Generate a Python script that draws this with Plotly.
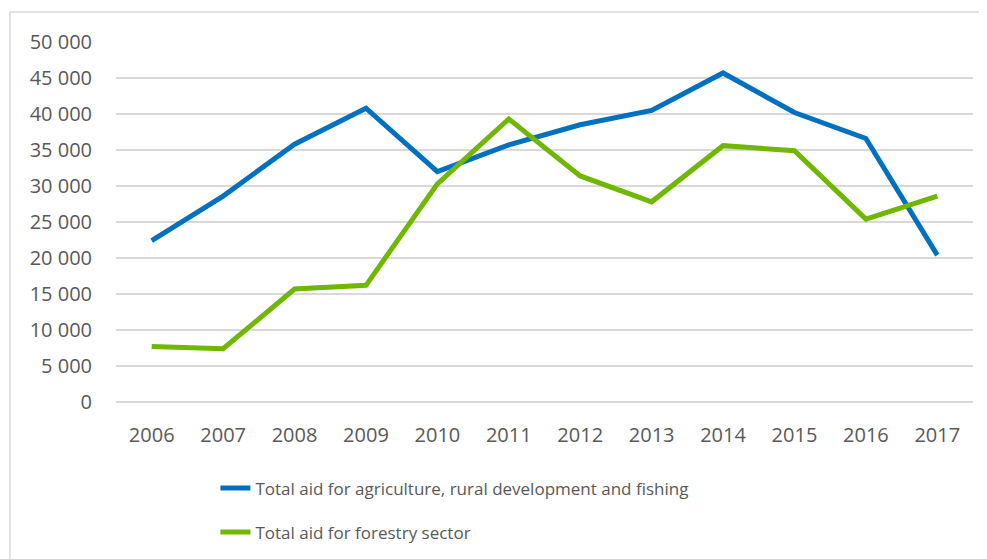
import plotly.graph_objects as go

years = ["2006", "2007", "2008", "2009", "2010", "2011", "2012", "2013", "2014", "2015", "2016", "2017"]
agri = [22400, 28600, 35800, 40800, 32000, 35700, 38500, 40500, 45700, 40200, 36600, 20400]
forestry = [7700, 7400, 15700, 16200, 30300, 39300, 31400, 27800, 35600, 34900, 25400, 28600]
name_agri = "Total aid for agriculture, rural development and fishing"
name_forest = "Total aid for forestry sector"
y_ticks = [0, 5000, 10000, 15000, 20000, 25000, 30000, 35000, 40000, 45000, 50000]
y_labels = ["0", "5 000", "10 000", "15 000", "20 000", "25 000", "30 000", "35 000", "40 000", "45 000", "50 000"]

FONT = "Open Sans"
GRAY = "#595959"

fig = go.Figure()
fig.add_trace(go.Scatter(x=years, y=agri, mode="lines", name=name_agri, legendgroup="a",
                         line=dict(color="#0070C0", width=5)))
fig.add_trace(go.Scatter(x=years, y=forestry, mode="lines", name=name_forest, legendgroup="b",
                         line=dict(color="#70B800", width=5)))

fig.update_layout(
    width=979, height=551,
    margin=dict(l=108, r=14, t=34, b=157, autoexpand=False),
    paper_bgcolor="white", plot_bgcolor="white",
    font=dict(family=FONT, color=GRAY, size=20),
    showlegend=True,
    legend=dict(x=0.116, xanchor="left", y=-0.19, yanchor="top",
                font=dict(family=FONT, size=17, color=GRAY),
                tracegroupgap=19, bgcolor="rgba(0,0,0,0)"),
    xaxis=dict(type="category", range=[-0.5, 11.5], showgrid=False, showline=False,
               ticks="", ticklabelstandoff=19, tickfont=dict(size=20, color=GRAY), zeroline=False),
    yaxis=dict(range=[0, 50000], tickvals=y_ticks, ticktext=y_labels, showgrid=True,
               gridcolor="#D9D9D9", gridwidth=1.5, zeroline=True, zerolinecolor="#D9D9D9",
               zerolinewidth=1.5, showline=False, ticks="", ticklabelstandoff=23,
               tickfont=dict(size=20, color=GRAY)),
    shapes=[dict(type="rect", xref="paper", yref="paper", x0=-0.1237, x1=1.1, y0=-0.6, y1=1.0833,
                 line=dict(color="#D9D9D9", width=1.5), fillcolor="rgba(0,0,0,0)", layer="below")],
)

fig.write_html("out.html")
